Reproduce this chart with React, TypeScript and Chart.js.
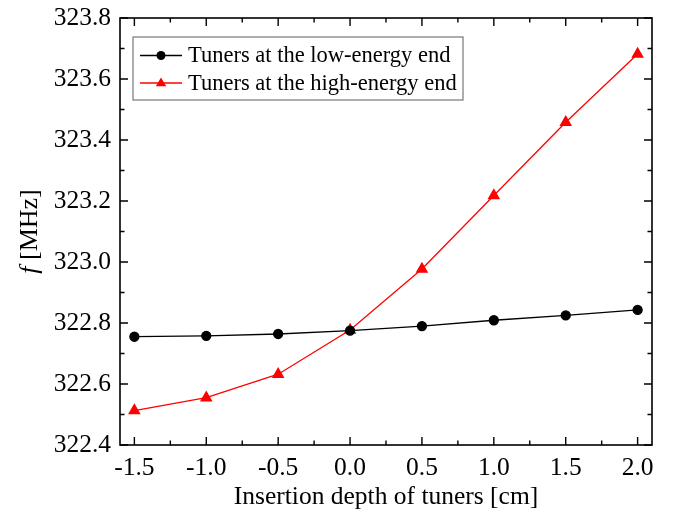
import React, { useEffect, useRef } from "react";
import { Chart, registerables } from "chart.js";

Chart.register(...registerables);

const xValues = [-1.5, -1.0, -0.5, 0.0, 0.5, 1.0, 1.5, 2.0];
const lowEnergyEnd = [322.755, 322.758, 322.764, 322.775, 322.79, 322.809, 322.825, 322.843];
const highEnergyEnd = [322.513, 322.555, 322.632, 322.777, 322.977, 323.218, 323.458, 323.682];
const seriesLabels = ["Tuners at the low-energy end", "Tuners at the high-energy end"];
const xTitle = "Insertion depth of tuners [cm]";

const FONT = "'Liberation Serif', 'Times New Roman', serif";

const framePlugin = {
  id: "frame",
  afterDraw(chart: any) {
    const ctx = chart.ctx;
    const { left, right, top, bottom } = chart.chartArea;
    const xs = chart.scales.x;
    const ys = chart.scales.y;
    ctx.save();
    ctx.strokeStyle = "#000";
    ctx.lineWidth = 1.6;
    ctx.strokeRect(left, top, right - left, bottom - top);
    ctx.lineWidth = 1.4;
    const major = 8;
    const minor = 4.5;
    for (let v = -1.5; v <= 2.0001; v += 0.25) {
      const px = xs.getPixelForValue(v);
      const isMajor = Math.abs(v * 2 - Math.round(v * 2)) < 1e-6;
      const len = isMajor ? major : minor;
      ctx.beginPath();
      ctx.moveTo(px, bottom);
      ctx.lineTo(px, bottom - len);
      ctx.moveTo(px, top);
      ctx.lineTo(px, top + len);
      ctx.stroke();
    }
    for (let i = 0; i <= 14; i++) {
      const v = 322.4 + i * 0.1;
      const py = ys.getPixelForValue(v);
      const len = i % 2 === 0 ? major : minor;
      ctx.beginPath();
      ctx.moveTo(left, py);
      ctx.lineTo(left + len, py);
      ctx.moveTo(right, py);
      ctx.lineTo(right - len, py);
      ctx.stroke();
    }
    // y title
    ctx.fillStyle = "#000";
    ctx.translate(30, (top + bottom) / 2);
    ctx.rotate(-Math.PI / 2);
    ctx.textBaseline = "middle";
    ctx.font = `italic 26px ${FONT}`;
    const fW = ctx.measureText("f").width;
    ctx.font = `26px ${FONT}`;
    const restW = ctx.measureText(" [MHz]").width;
    const total = fW + restW;
    ctx.font = `italic 26px ${FONT}`;
    ctx.textAlign = "left";
    ctx.fillText("f", -total / 2, 0);
    ctx.font = `26px ${FONT}`;
    ctx.fillText(" [MHz]", -total / 2 + fW, 0);
    ctx.restore();

    // legend
    ctx.save();
    const bx = left + 13;
    const by = top + 19;
    const bw = 330;
    const bh = 63;
    ctx.fillStyle = "#fff";
    ctx.fillRect(bx, by, bw, bh);
    ctx.strokeStyle = "#777";
    ctx.lineWidth = 1.2;
    ctx.strokeRect(bx, by, bw, bh);
    const rows = [by + 18.5, by + 46];
    chart.data.datasets.forEach((ds: any, i: number) => {
      const y = rows[i];
      ctx.strokeStyle = ds.borderColor;
      ctx.lineWidth = 1.3;
      ctx.beginPath();
      ctx.moveTo(bx + 7, y);
      ctx.lineTo(bx + 49, y);
      ctx.stroke();
      ctx.fillStyle = ds.pointBackgroundColor;
      const cx = bx + 28;
      if (ds.pointStyle === "triangle") {
        const r = 5.5;
        ctx.beginPath();
        ctx.moveTo(cx, y - r);
        ctx.lineTo(cx + r * 0.95, y + r * 0.6);
        ctx.lineTo(cx - r * 0.95, y + r * 0.6);
        ctx.closePath();
        ctx.fill();
      } else {
        ctx.beginPath();
        ctx.arc(cx, y, 4.5, 0, Math.PI * 2);
        ctx.fill();
      }
      ctx.fillStyle = "#000";
      ctx.font = `22.5px ${FONT}`;
      ctx.textBaseline = "middle";
      ctx.textAlign = "left";
      ctx.fillText(ds.label, bx + 55, y + 1);
    });
    ctx.restore();
  },
};

export default function App() {
  const ref = useRef<HTMLCanvasElement | null>(null);
  useEffect(() => {
    if (!ref.current) return;
    const chart = new Chart(ref.current, {
      type: "line",
      data: {
        datasets: [
          {
            label: seriesLabels[0],
            data: xValues.map((x, i) => ({ x, y: lowEnergyEnd[i] })),
            borderColor: "#000",
            backgroundColor: "#000",
            pointBackgroundColor: "#000",
            pointBorderColor: "#000",
            pointStyle: "circle",
            pointRadius: 4.5,
            borderWidth: 1.3,
            tension: 0,
          },
          {
            label: seriesLabels[1],
            data: xValues.map((x, i) => ({ x, y: highEnergyEnd[i] })),
            borderColor: "#ff0000",
            backgroundColor: "#ff0000",
            pointBackgroundColor: "#ff0000",
            pointBorderColor: "#ff0000",
            pointStyle: "triangle",
            pointRadius: 6,
            borderWidth: 1.3,
            tension: 0,
          },
        ],
      },
      options: {
        animation: false,
        responsive: false,
        maintainAspectRatio: false,
        layout: { padding: { left: 0, top: 18, right: 25, bottom: 0 } },
        plugins: { legend: { display: false }, tooltip: { enabled: false } },
        scales: {
          x: {
            type: "linear",
            min: -1.6,
            max: 2.1,
            afterFit: (s: any) => {
              s.height = 72;
              s.paddingLeft = 0;
              s.paddingRight = 0;
            },
            afterBuildTicks: (s: any) => {
              s.ticks = xValues.map((v) => ({ value: v }));
            },
            grid: { display: false, drawTicks: false },
            border: { display: false },
            ticks: {
              font: { family: FONT, size: 25.5 },
              color: "#000",
              padding: 8,
              maxRotation: 0,
              callback: (v: any) => Number(v).toFixed(1),
            },
            title: {
              display: true,
              text: xTitle,
              font: { family: FONT, size: 25.5 },
              color: "#000",
              padding: { top: 0, bottom: 4 },
            },
          },
          y: {
            type: "linear",
            min: 322.4,
            max: 323.8,
            afterFit: (s: any) => {
              s.width = 120;
              s.paddingTop = 0;
              s.paddingBottom = 0;
            },
            grid: { display: false, drawTicks: false },
            border: { display: false },
            ticks: {
              stepSize: 0.2,
              font: { family: FONT, size: 25.5 },
              color: "#000",
              padding: 9,
              callback: (v: any) => Number(v).toFixed(1),
            },
          },
        },
      },
      plugins: [framePlugin],
    } as any);
    return () => chart.destroy();
  }, []);
  return (
    <div style={{ position: "absolute", left: 0, top: 0, width: 677, height: 517, background: "#fff" }}>
      <canvas ref={ref} width={677} height={517} style={{ width: 677, height: 517 }} />
    </div>
  );
}
